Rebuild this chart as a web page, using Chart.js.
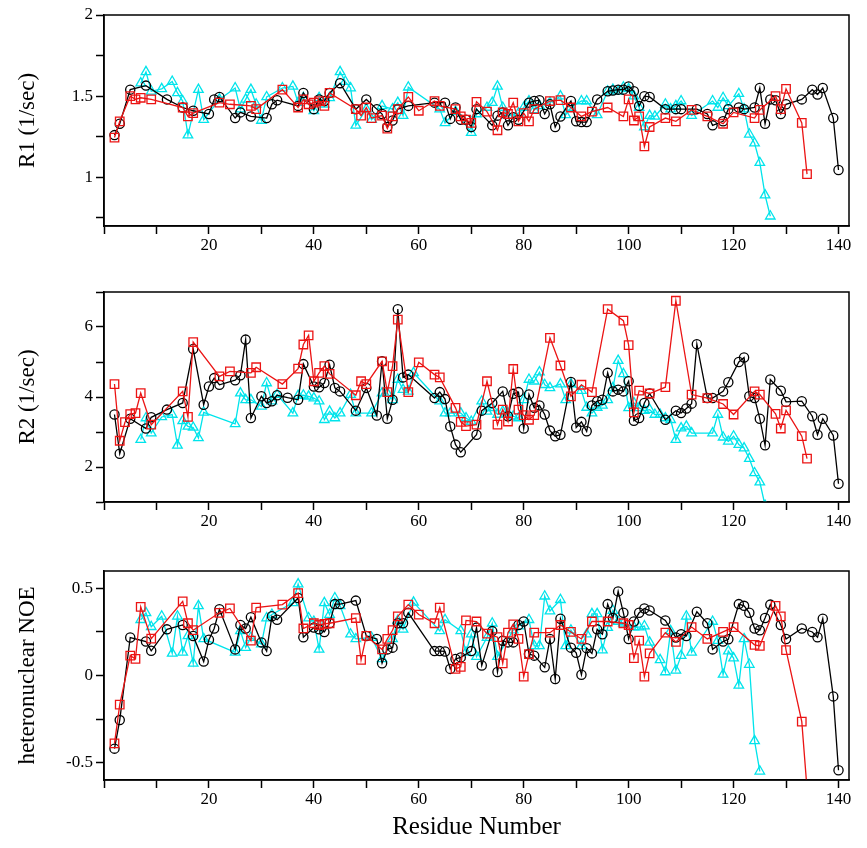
<!DOCTYPE html>
<html>
<head>
<meta charset="utf-8">
<script src="https://cdn.jsdelivr.net/npm/chart.js@4.4.0/dist/chart.umd.min.js"></script>
<style>
body { margin: 0; background: #fff; }
.panel { position: absolute; left: 0; }
</style>
</head>
<body>
<div class="panel" style="top:0px"><canvas id="c1" width="867" height="262"></canvas></div>
<div class="panel" style="top:277px"><canvas id="c2" width="867" height="261"></canvas></div>
<div class="panel" style="top:556px"><canvas id="c3" width="867" height="292"></canvas></div>
<script>
// x axis ticks (residue number)
const xTicks = [0, 10, 20, 30, 40, 50, 60, 70, 80, 90, 100, 110, 120, 130, 140];

// R1 panel
const r1Ticks = [0.75, 1, 1.25, 1.5, 1.75, 2];
const r1Labels = [1, 1.5, 2];
const r1BlackRes = [2,3,5,8,12,15,17,20,21,22,25,26,28,31,32,33,37,38,40,41,42,43,45,48,50,52,53,54,55,56,58,63,65,66,67,68,69,70,71,74,75,76,77,78,79,81,82,83,84,85,86,87,89,90,91,92,94,96,97,98,99,100,101,102,103,104,107,109,110,113,115,116,118,119,121,122,124,125,126,127,128,129,130,133,135,136,137,139,140];
const r1Black = [1.26,1.33,1.54,1.565,1.48,1.43,1.41,1.39,1.48,1.495,1.365,1.40,1.375,1.365,1.45,1.475,1.44,1.52,1.42,1.48,1.47,1.52,1.58,1.42,1.48,1.42,1.39,1.31,1.35,1.42,1.44,1.46,1.46,1.36,1.43,1.355,1.355,1.31,1.42,1.32,1.38,1.40,1.32,1.37,1.355,1.46,1.47,1.475,1.39,1.45,1.31,1.375,1.47,1.345,1.34,1.34,1.48,1.53,1.535,1.54,1.54,1.56,1.53,1.44,1.50,1.495,1.42,1.42,1.42,1.42,1.39,1.32,1.345,1.42,1.43,1.42,1.43,1.55,1.33,1.48,1.475,1.39,1.45,1.48,1.54,1.51,1.55,1.365,1.045];
const r1RedRes = [2,3,5,6,7,9,15,16,17,22,24,28,29,34,37,38,39,40,41,42,43,48,49,50,51,53,54,55,56,58,60,63,64,67,68,69,70,71,73,75,76,77,78,79,80,81,82,85,87,89,91,93,96,99,100,101,102,103,104,107,109,112,115,118,120,124,125,128,129,130,133,134];
const r1Red = [1.245,1.345,1.50,1.48,1.49,1.48,1.43,1.375,1.395,1.46,1.45,1.44,1.42,1.54,1.43,1.48,1.45,1.46,1.47,1.44,1.52,1.42,1.38,1.43,1.365,1.38,1.30,1.375,1.42,1.495,1.41,1.47,1.44,1.42,1.375,1.355,1.335,1.465,1.405,1.29,1.40,1.39,1.46,1.345,1.395,1.345,1.42,1.47,1.475,1.43,1.375,1.405,1.43,1.375,1.48,1.35,1.375,1.19,1.31,1.365,1.345,1.415,1.375,1.33,1.40,1.365,1.415,1.50,1.42,1.545,1.335,1.02];
const r1CyanRes = [7,8,9,11,13,14,15,16,18,19,22,25,26,27,28,29,30,31,34,36,37,38,40,41,42,43,45,46,47,48,50,51,53,55,56,57,58,64,65,67,70,71,73,74,75,76,77,79,80,81,82,83,85,87,88,89,91,92,94,96,97,98,99,100,101,102,103,104,105,107,108,109,110,112,116,117,118,119,121,122,123,124,125,126,127];
const r1Cyan = [1.58,1.65,1.53,1.545,1.59,1.52,1.47,1.26,1.54,1.355,1.48,1.55,1.42,1.48,1.54,1.45,1.35,1.495,1.55,1.56,1.46,1.49,1.41,1.49,1.45,1.49,1.65,1.59,1.55,1.32,1.42,1.355,1.44,1.42,1.46,1.38,1.555,1.42,1.335,1.405,1.275,1.39,1.43,1.46,1.56,1.43,1.38,1.395,1.43,1.47,1.415,1.44,1.46,1.50,1.385,1.43,1.47,1.47,1.385,1.53,1.54,1.53,1.555,1.545,1.50,1.43,1.31,1.38,1.375,1.45,1.42,1.44,1.47,1.38,1.47,1.43,1.49,1.44,1.515,1.42,1.265,1.21,1.09,0.89,0.76];

// R2 panel
const r2Ticks = [1, 2, 3, 4, 5, 6, 7];
const r2Labels = [2, 4, 6];
const r2BlackRes = [2,3,5,8,9,12,15,17,19,20,21,22,25,26,27,28,30,31,32,33,35,37,38,40,41,42,43,44,45,48,50,52,53,54,55,56,57,58,63,64,65,66,67,68,71,72,74,76,77,78,79,80,81,82,83,84,85,86,87,89,90,91,92,93,94,95,96,97,98,99,100,101,102,103,104,107,109,110,111,112,113,115,116,118,119,121,122,123,124,125,126,127,129,130,133,135,136,137,139,140];
const r2Black = [3.50,2.38,3.38,3.10,3.42,3.64,3.83,5.37,3.78,4.30,4.54,4.35,4.48,4.62,5.64,3.40,4.02,3.83,3.88,4.05,3.98,3.92,4.94,4.30,4.28,4.40,4.92,4.26,4.16,3.61,4.26,3.47,5.02,3.38,3.92,6.51,4.56,4.64,3.97,4.14,3.94,3.16,2.64,2.42,2.92,3.61,3.83,4.16,3.45,4.09,4.14,3.10,4.07,3.69,3.76,3.50,3.04,2.88,2.92,4.43,3.13,3.29,3.02,3.76,3.88,3.92,4.69,4.16,4.21,4.16,4.45,3.32,3.40,3.83,4.10,3.35,3.61,3.54,3.67,3.81,5.51,3.97,3.97,4.16,4.42,5.00,5.13,4.02,3.97,3.38,2.62,4.50,4.18,3.86,3.88,3.45,2.92,3.38,2.90,1.52];
const r2RedRes = [2,3,4,5,6,7,9,15,16,17,22,24,28,29,34,37,38,39,40,41,42,43,48,49,50,53,54,55,56,58,60,63,64,67,68,69,71,73,75,76,77,78,79,80,81,82,85,87,89,91,93,96,99,100,101,102,104,107,109,112,115,118,120,124,125,128,129,130,133,134];
const r2Red = [4.37,2.75,3.28,3.51,3.54,4.11,3.21,4.16,3.43,5.57,4.59,4.73,4.69,4.85,4.37,4.81,5.50,5.76,4.45,4.69,4.88,4.66,4.05,4.45,4.37,5.02,4.14,4.88,6.21,4.14,4.99,4.64,4.56,3.69,3.29,3.17,3.21,4.45,3.21,3.64,3.30,4.80,3.64,3.48,3.35,3.48,5.69,4.90,4.02,4.35,4.14,6.51,6.18,5.48,3.56,4.18,4.10,4.28,6.75,4.07,3.97,3.80,3.50,4.16,4.07,3.52,3.10,3.62,2.88,2.24];
const r2CyanRes = [7,8,9,11,13,14,15,16,17,18,19,25,26,27,28,30,31,32,33,36,37,38,39,40,41,42,43,44,45,47,48,51,53,54,55,56,57,58,59,64,65,66,68,69,70,72,73,74,75,76,77,78,79,80,81,82,83,84,85,87,88,89,91,92,93,94,95,96,97,98,99,100,101,102,103,104,105,106,107,108,109,110,111,112,116,117,118,119,120,121,122,123,124,125,126];
const r2Cyan = [2.78,3.40,2.97,3.43,3.50,2.62,3.32,3.16,3.13,2.83,3.56,3.23,4.11,3.92,3.92,3.73,4.40,3.88,4.07,3.54,4.04,4.05,4.02,3.97,3.88,3.35,3.59,3.40,3.54,4.07,3.54,3.54,4.11,4.11,3.92,4.50,4.21,4.16,4.69,3.88,3.54,3.54,3.54,3.40,3.30,3.88,3.59,3.69,3.50,3.59,3.54,3.45,3.40,3.92,4.50,4.45,4.71,4.35,4.26,4.37,3.92,4.37,4.18,3.70,3.54,3.70,3.76,3.92,4.26,5.04,4.66,3.69,3.83,3.69,3.61,3.64,3.50,3.50,3.40,3.35,2.78,3.11,3.16,2.97,2.97,3.50,2.85,2.73,2.88,2.64,2.54,2.24,1.83,1.57,0.90];

// heteronuclear NOE panel
const noeTicks = [-0.5, -0.25, 0, 0.25, 0.5];
const noeLabels = [-0.5, 0, 0.5];
const noeBlackRes = [2,3,5,8,9,12,15,17,19,20,21,22,25,26,27,28,30,31,32,33,37,38,40,41,42,43,44,45,48,50,52,53,54,55,56,57,58,63,64,65,66,67,68,70,71,72,74,75,76,77,78,79,80,81,82,84,85,86,87,89,90,91,92,93,94,95,96,97,98,99,100,101,102,103,104,107,109,110,111,113,115,116,118,119,121,122,123,124,125,126,127,129,130,133,135,136,137,139,140];
const noeBlack = [-0.42,-0.256,0.218,0.195,0.142,0.265,0.29,0.227,0.08,0.205,0.27,0.38,0.15,0.29,0.27,0.335,0.19,0.14,0.34,0.32,0.445,0.22,0.275,0.265,0.25,0.30,0.41,0.41,0.43,0.227,0.21,0.07,0.15,0.16,0.30,0.30,0.36,0.14,0.14,0.138,0.038,0.095,0.104,0.14,0.275,0.057,0.255,0.02,0.20,0.19,0.19,0.29,0.31,0.123,0.114,0.047,0.21,-0.02,0.326,0.16,0.13,0.004,0.157,0.127,0.265,0.237,0.41,0.33,0.483,0.36,0.21,0.31,0.36,0.385,0.373,0.316,0.218,0.237,0.227,0.366,0.30,0.15,0.195,0.208,0.41,0.40,0.36,0.27,0.26,0.33,0.407,0.29,0.21,0.27,0.25,0.22,0.326,-0.12,-0.544];
const noeRedRes = [2,3,5,6,7,9,15,16,17,22,24,28,29,34,37,38,40,41,42,43,48,49,50,53,54,55,56,58,60,63,64,67,68,69,71,73,75,76,77,78,79,80,81,82,85,87,89,91,93,96,99,100,101,102,103,104,107,109,112,115,118,120,124,125,128,129,130,133,134];
const noeRed = [-0.39,-0.167,0.114,0.095,0.394,0.212,0.426,0.30,0.26,0.36,0.385,0.20,0.39,0.407,0.473,0.27,0.30,0.29,0.297,0.30,0.33,0.09,0.227,0.15,0.21,0.26,0.34,0.407,0.35,0.30,0.39,0.038,0.05,0.316,0.31,0.24,0.22,0.07,0.246,0.294,0.21,-0.006,0.123,0.246,0.246,0.29,0.25,0.21,0.31,0.31,0.30,0.29,0.10,0.20,-0.006,0.127,0.246,0.193,0.278,0.21,0.25,0.278,0.176,0.17,0.40,0.34,0.146,-0.265,-0.65];
const noeCyanRes = [7,8,9,11,13,14,15,16,17,18,19,25,26,27,28,30,31,32,36,37,39,40,41,42,43,44,45,47,48,51,53,55,56,57,59,64,65,68,69,70,71,73,74,75,78,79,81,82,83,84,85,87,88,89,91,92,93,94,95,96,97,98,99,101,102,103,104,106,107,108,109,110,111,112,116,117,118,119,120,121,122,123,124,125];
const noeCyan = [0.32,0.36,0.28,0.34,0.127,0.34,0.133,0.227,0.07,0.40,0.21,0.133,0.256,0.16,0.218,0.18,0.33,0.35,0.417,0.525,0.33,0.31,0.15,0.417,0.35,0.445,0.40,0.237,0.21,0.218,0.095,0.21,0.316,0.265,0.42,0.256,0.32,0.256,0.133,0.237,0.108,0.218,0.30,0.108,0.26,0.284,0.32,0.17,0.17,0.455,0.37,0.435,0.17,0.26,0.17,0.237,0.354,0.354,0.146,0.275,0.373,0.31,0.30,0.278,0.278,0.284,0.19,0.09,0.02,0.256,0.03,0.114,0.34,0.133,0.31,0.20,0.006,0.14,0.10,-0.057,0.21,0.063,-0.375,-0.55];

const RED = 'rgb(235,20,20)';
const CYAN = 'rgb(0,228,235)';
const SERIF = "'Liberation Serif', 'DejaVu Serif', serif";

function pts(res, vals) {
    return res.map((r, i) => ({ x: r, y: vals[i] }));
}

function series(res, vals, color, style, radius, order) {
    return {
        data: pts(res, vals),
        borderColor: color,
        backgroundColor: 'rgba(0,0,0,0)',
        borderWidth: 1.3,
        pointStyle: style,
        pointRadius: radius,
        pointBorderWidth: 1.3,
        pointBorderColor: color,
        pointBackgroundColor: 'rgba(0,0,0,0)',
        tension: 0,
        order: order
    };
}

// box round the plot area
const framePlugin = {
    id: 'frame',
    afterDraw(chart) {
        const { ctx, chartArea: a } = chart;
        ctx.save();
        ctx.strokeStyle = '#000';
        ctx.lineWidth = 1.5;
        ctx.strokeRect(a.left, a.top, a.right - a.left, a.bottom - a.top);
        ctx.restore();
    }
};

function makePanel(id, ds, yMin, yMax, yTicks, yLabels, yTitle, last) {
    const ctx = document.getElementById(id).getContext('2d');
    return new Chart(ctx, {
        type: 'line',
        data: { datasets: ds },
        plugins: [framePlugin],
        options: {
            responsive: false,
            animation: false,
            layout: { padding: { top: 15, right: 18, left: 0, bottom: 0 } },
            plugins: { legend: { display: false }, tooltip: { enabled: false } },
            scales: {
                x: {
                    type: 'linear',
                    min: 0,
                    max: 142,
                    afterBuildTicks: s => { s.ticks = xTicks.map(v => ({ value: v })); },
                    afterFit: s => { s.height = last ? 68 : 36; },
                    ticks: {
                        autoSkip: false,
                        maxRotation: 0,
                        padding: 1,
                        color: '#000',
                        font: { family: SERIF, size: 17 },
                        callback: v => (v % 20 === 0 && v > 0) ? String(v) : ''
                    },
                    grid: { drawOnChartArea: false, drawTicks: true, tickLength: 8, tickWidth: 1.5, tickColor: '#000' },
                    border: { display: true, color: '#000', width: 1.5 },
                    title: {
                        display: last,
                        text: 'Residue Number',
                        color: '#000',
                        font: { family: SERIF, size: 25 },
                        padding: { top: 0, bottom: 6 }
                    }
                },
                y: {
                    min: yMin,
                    max: yMax,
                    afterBuildTicks: s => { s.ticks = yTicks.map(v => ({ value: v })); },
                    afterFit: s => { s.width = 104; },
                    ticks: {
                        autoSkip: false,
                        padding: 3,
                        color: '#000',
                        font: { family: SERIF, size: 17 },
                        callback: v => yLabels.includes(v) ? String(v) : ''
                    },
                    grid: { drawOnChartArea: false, drawTicks: true, tickLength: 8, tickWidth: 1.5, tickColor: '#000' },
                    border: { display: true, color: '#000', width: 1.5 },
                    title: {
                        display: true,
                        text: yTitle,
                        color: '#000',
                        font: { family: SERIF, size: 23 },
                        padding: { top: 14, bottom: 0 }
                    }
                }
            }
        }
    });
}

makePanel('c1', [
    series(r1RedRes, r1Red, RED, 'rect', 6, 0),
    series(r1BlackRes, r1Black, '#000', 'circle', 4.6, 1),
    series(r1CyanRes, r1Cyan, CYAN, 'triangle', 5.5, 2)
], 0.7, 2, r1Ticks, r1Labels, 'R1 (1/sec)', false);

makePanel('c2', [
    series(r2RedRes, r2Red, RED, 'rect', 6, 0),
    series(r2BlackRes, r2Black, '#000', 'circle', 4.6, 1),
    series(r2CyanRes, r2Cyan, CYAN, 'triangle', 5.5, 2)
], 1, 7, r2Ticks, r2Labels, 'R2 (1/sec)', false);

makePanel('c3', [
    series(noeRedRes, noeRed, RED, 'rect', 6, 0),
    series(noeBlackRes, noeBlack, '#000', 'circle', 4.6, 1),
    series(noeCyanRes, noeCyan, CYAN, 'triangle', 5.5, 2)
], -0.6, 0.6, noeTicks, noeLabels, 'heteronuclear NOE', true);
</script>
</body>
</html>
